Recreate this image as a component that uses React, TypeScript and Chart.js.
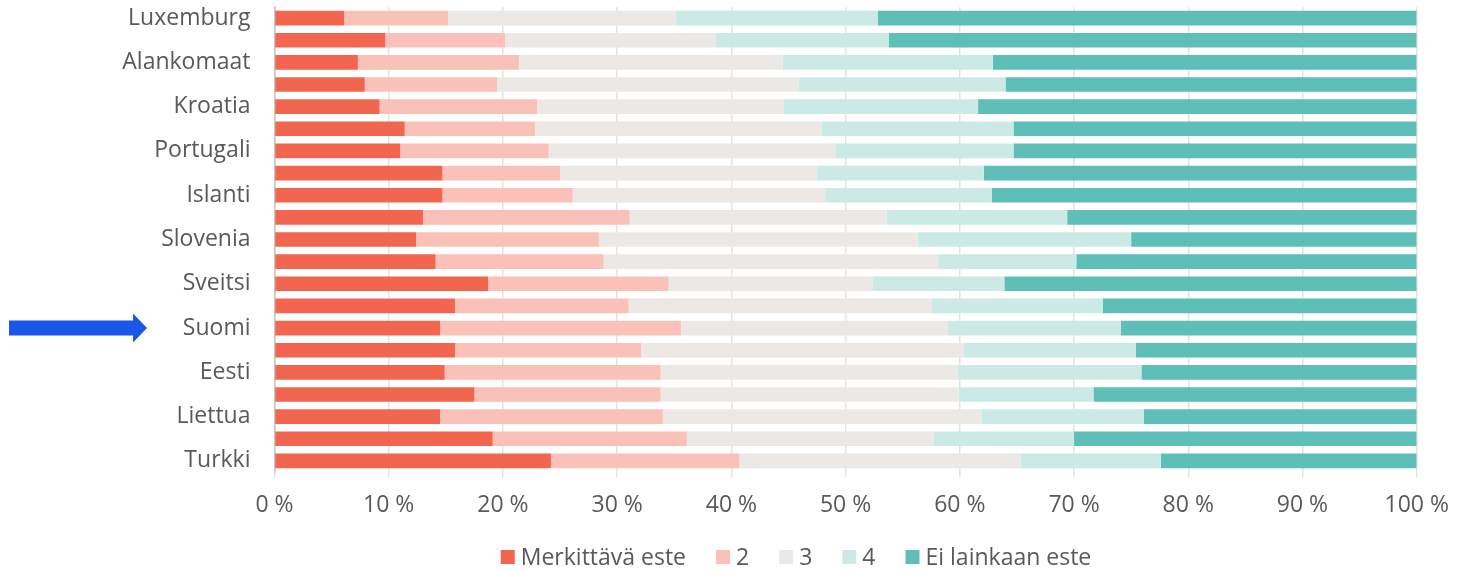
import React, { useEffect, useRef } from "react";
import { Chart, registerables } from "chart.js";

Chart.register(...registerables);

const categories = [
  "Luxemburg", "", "Alankomaat", "", "Kroatia", "", "Portugali", "", "Islanti", "",
  "Slovenia", "", "Sveitsi", "", "Suomi", "", "Eesti", "", "Liettua", "", "Turkki",
];

const seriesNames = ["Merkittävä este", "2", "3", "4", "Ei lainkaan este"];

const merkittava = [6.1, 9.7, 7.3, 7.9, 9.2, 11.4, 11.0, 14.7, 14.7, 13.0, 12.4, 14.1, 18.7, 15.8, 14.5, 15.8, 14.9, 17.5, 14.5, 19.1, 24.2];
const kaksi = [9.1, 10.5, 14.1, 11.6, 13.8, 11.4, 13.0, 10.3, 11.4, 18.1, 16.0, 14.7, 15.8, 15.2, 21.1, 16.3, 18.9, 16.3, 19.5, 17.0, 16.5];
const kolme = [19.9, 18.4, 23.1, 26.4, 21.6, 25.1, 25.1, 22.5, 22.1, 22.5, 27.9, 29.3, 17.9, 26.5, 23.3, 28.2, 26.0, 26.1, 27.9, 21.6, 24.6];
const nelja = [17.7, 15.2, 18.4, 18.1, 17.0, 16.8, 15.6, 14.6, 14.6, 15.8, 18.7, 12.1, 11.5, 15.0, 15.2, 15.1, 16.1, 11.8, 14.2, 12.3, 12.3];
const eiLainkaan = [47.2, 46.2, 37.1, 36.0, 38.4, 35.3, 35.3, 37.9, 37.2, 30.6, 25.0, 29.8, 36.1, 27.5, 25.9, 24.6, 24.1, 28.3, 23.9, 30.0, 22.4];

const xTicks = [0, 10, 20, 30, 40, 50, 60, 70, 80, 90, 100];
const highlighted = "Suomi";

const colors = ["#F2654E", "#F9C1B7", "#ECE8E6", "#CBEAE6", "#5DBFB8"];
const FONT = "'Open Sans', sans-serif";
const FONT_SIZE = 23;
const TEXT_COLOR = "#595959";

const arrowPlugin = {
  id: "arrowPlugin",
  afterDraw(chart: any) {
    const y = chart.scales.y.getPixelForValue(categories.indexOf(highlighted));
    const ctx = chart.ctx;
    ctx.save();
    ctx.fillStyle = "#1A56E8";
    ctx.beginPath();
    ctx.moveTo(9, y - 7.5);
    ctx.lineTo(133, y - 7.5);
    ctx.lineTo(133, y - 14.5);
    ctx.lineTo(147, y);
    ctx.lineTo(133, y + 14.5);
    ctx.lineTo(133, y + 7.5);
    ctx.lineTo(9, y + 7.5);
    ctx.closePath();
    ctx.fill();
    ctx.restore();
  },
};

const legendPlugin = {
  id: "customLegend",
  afterDraw(chart: any) {
    const ctx = chart.ctx;
    ctx.save();
    ctx.font = `${FONT_SIZE}px ${FONT}`;
    ctx.textBaseline = "middle";
    const box = 14;
    const textGap = 6;
    const itemGap = 30;
    const items = chart.data.datasets.map((d: any) => ({
      label: d.label,
      color: d.backgroundColor,
      w: box + textGap + ctx.measureText(d.label).width,
    }));
    const total = items.reduce((s: number, it: any) => s + it.w, 0) + itemGap * (items.length - 1);
    const cy = 557;
    let x = 796 - total / 2;
    for (const it of items) {
      ctx.fillStyle = it.color;
      ctx.fillRect(x, cy - 7, box, box);
      ctx.fillStyle = TEXT_COLOR;
      ctx.fillText(it.label, x + box + textGap, cy + 1);
      x += it.w + itemGap;
    }
    ctx.restore();
  },
};

export default function App() {
  const ref = useRef<HTMLCanvasElement>(null);
  useEffect(() => {
    if (!ref.current) return;
    const data = [merkittava, kaksi, kolme, nelja, eiLainkaan];
    const chart = new Chart(ref.current, {
      type: "bar",
      data: {
        labels: categories,
        datasets: seriesNames.map((name, i) => ({
          label: name,
          data: data[i],
          backgroundColor: colors[i],
          borderWidth: 0,
          categoryPercentage: 1,
          barPercentage: 0.66,
        })),
      },
      options: {
        indexAxis: "y",
        animation: false,
        responsive: true,
        maintainAspectRatio: false,
        layout: { padding: { top: 7, right: 40.3, left: 0, bottom: 28 } },
        plugins: {
          legend: { display: false },
          tooltip: { enabled: false },
        },
        scales: {
          x: {
            stacked: true,
            min: 0,
            max: 100,
            afterBuildTicks(scale: any) {
              scale.ticks = xTicks.map((v) => ({ value: v }));
            },
            afterFit(scale: any) {
              scale.height = 70;
              scale.paddingLeft = 0;
              scale.paddingRight = 0;
            },
            grid: { color: "#E3E3E3", lineWidth: 1.5, tickLength: 5, drawTicks: true },
            border: { display: false },
            ticks: {
              color: TEXT_COLOR,
              padding: 15,
              font: { family: FONT, size: FONT_SIZE },
              callback: (v: any) => v + " %",
              maxRotation: 0,
            },
          },
          y: {
            stacked: true,
            afterFit(scale: any) {
              scale.width = 274.5;
              scale.paddingTop = 0;
              scale.paddingBottom = 0;
            },
            grid: { display: false, drawTicks: false },
            border: { display: true, color: "#C4C4C4", width: 1.5 },
            ticks: {
              color: TEXT_COLOR,
              padding: 24,
              autoSkip: false,
              font: { family: FONT, size: FONT_SIZE },
            },
          },
        },
      },
      plugins: [arrowPlugin, legendPlugin],
    });
    return () => chart.destroy();
  }, []);
  return (
    <div style={{ position: "absolute", left: 0, top: 0, width: 1457, height: 570 }}>
      <canvas ref={ref} />
    </div>
  );
}
